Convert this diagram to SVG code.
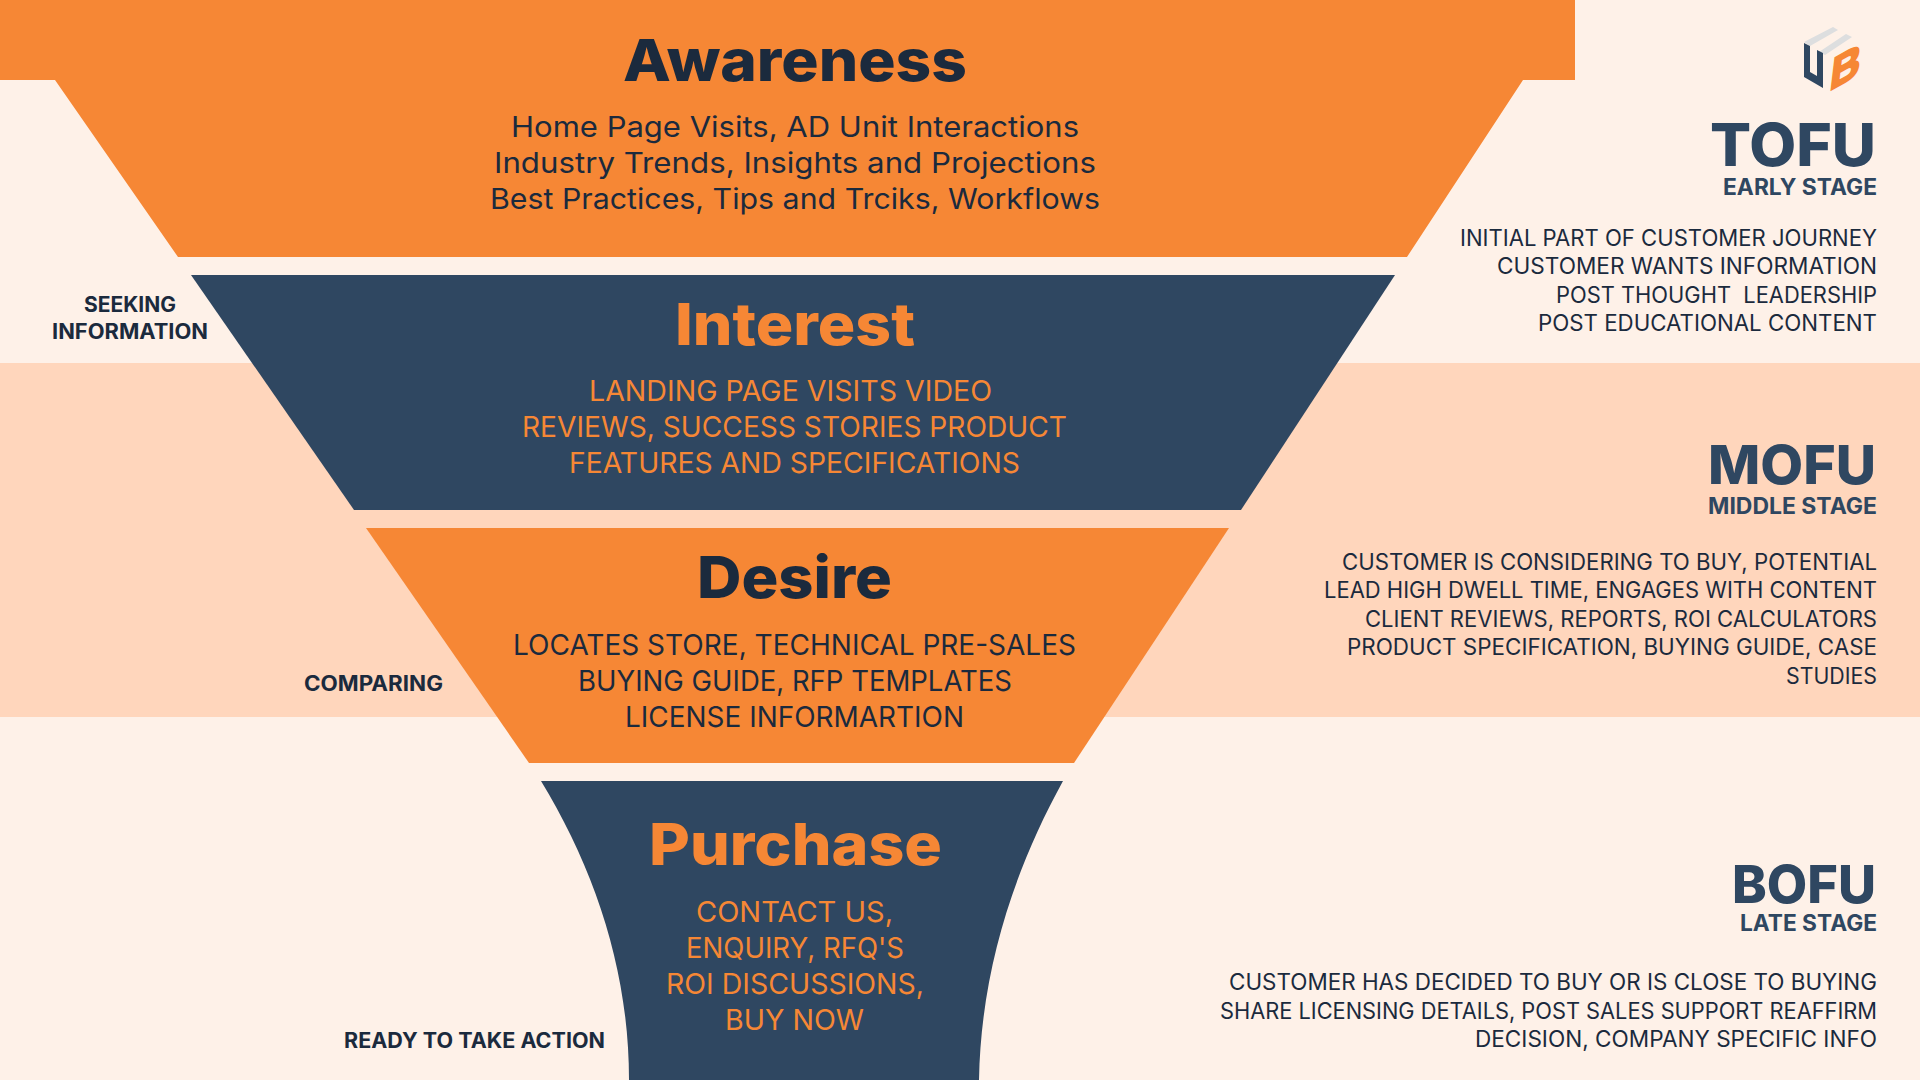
<svg xmlns="http://www.w3.org/2000/svg" width="1920" height="1080" viewBox="0 0 1920 1080">
<style>
text{font-family:"Inter","Noto Sans","Liberation Sans",sans-serif;white-space:pre}
.o{fill:#F68735}.n{fill:#2F4761}
.tt{font-size:58px;font-weight:800}
.b{font-size:28.5px;font-weight:400}
.stage{font-size:59px;font-weight:800;fill:#2F4761}
.sub{font-size:22.5px;font-weight:700;fill:#2F4761}
.d{font-size:22.5px;font-weight:400;fill:#1B2A3D}
.l{font-size:21px;font-weight:700;fill:#1B2A3D}
.dk{fill:#1B2A3D}.or{fill:#F68735}
</style>
<rect width="1920" height="1080" fill="#FEF1E8"/>
<rect y="363" width="1920" height="354" fill="#FFD6BC"/>
<g id="awareness">
<path class="o" d="M0 0H1575V80H1523L1407 257H178L55 80H0Z"/>
<text class="tt dk" x="623" y="81" textLength="344" lengthAdjust="spacingAndGlyphs">Awareness</text>
<text class="b dk" x="511" y="137" textLength="568" lengthAdjust="spacingAndGlyphs">Home Page Visits, AD Unit Interactions</text>
<text class="b dk" x="494" y="173" textLength="602" lengthAdjust="spacingAndGlyphs">Industry Trends, Insights and Projections</text>
<text class="b dk" x="490" y="209" textLength="610" lengthAdjust="spacingAndGlyphs">Best Practices, Tips and Trciks, Workflows</text>
</g>
<g id="interest">
<path class="n" d="M191 275H1395L1241 510H354Z"/>
<text class="tt or" x="675" y="345" textLength="240" lengthAdjust="spacingAndGlyphs">Interest</text>
<text class="b or" x="589" y="401" textLength="403" lengthAdjust="spacingAndGlyphs">LANDING PAGE VISITS VIDEO</text>
<text class="b or" x="522" y="437" textLength="545" lengthAdjust="spacingAndGlyphs">REVIEWS, SUCCESS STORIES PRODUCT</text>
<text class="b or" x="569" y="473" textLength="451" lengthAdjust="spacingAndGlyphs">FEATURES AND SPECIFICATIONS</text>
</g>
<g id="desire">
<path class="o" d="M366 528H1229L1074 763H529Z"/>
<text class="tt dk" x="697" y="598" textLength="195" lengthAdjust="spacingAndGlyphs">Desire</text>
<text class="b dk" x="513" y="655" textLength="563" lengthAdjust="spacingAndGlyphs">LOCATES STORE, TECHNICAL PRE-SALES</text>
<text class="b dk" x="578" y="691" textLength="434" lengthAdjust="spacingAndGlyphs">BUYING GUIDE, RFP TEMPLATES</text>
<text class="b dk" x="625" y="727" textLength="339" lengthAdjust="spacingAndGlyphs">LICENSE INFORMARTION</text>
</g>
<g id="purchase">
<path class="n" d="M541 781H1063C1014 870 981 970 979 1080H629C629 970 595 870 541 781Z"/>
<text class="tt or" x="649" y="865" textLength="293" lengthAdjust="spacingAndGlyphs">Purchase</text>
<text class="b or" x="696" y="922" textLength="197" lengthAdjust="spacingAndGlyphs">CONTACT US,</text>
<text class="b or" x="686" y="958" textLength="218" lengthAdjust="spacingAndGlyphs">ENQUIRY, RFQ'S</text>
<text class="b or" x="666" y="994" textLength="258" lengthAdjust="spacingAndGlyphs">ROI DISCUSSIONS,</text>
<text class="b or" x="725" y="1030" textLength="139" lengthAdjust="spacingAndGlyphs">BUY NOW</text>
</g>
<g id="label-seeking">
<text class="l" x="84" y="312" textLength="92" lengthAdjust="spacingAndGlyphs">SEEKING</text>
<text class="l" x="52" y="339" textLength="156" lengthAdjust="spacingAndGlyphs">INFORMATION</text>
</g>
<g id="label-comparing"><text class="l" x="304" y="691" textLength="139" lengthAdjust="spacingAndGlyphs">COMPARING</text></g>
<g id="label-ready"><text class="l" x="344" y="1048" textLength="261" lengthAdjust="spacingAndGlyphs">READY TO TAKE ACTION</text></g>
<g id="logo">
<path fill="#DDDEDF" d="M1804 42L1833 27L1838 30L1810 46ZM1819 52L1846 34L1852 37L1825 55Z"/>
<path class="n" d="M1804 43L1810 46V72L1817 76V50L1823 53V88L1804 77Z"/>
<text x="0" y="0" transform="matrix(0.9 -0.5 -0.12 1 1829 91)" style="font-family:'Liberation Sans',sans-serif;font-size:46px;font-weight:700;fill:#F68735;stroke:#F68735;stroke-width:2.5">B</text>
</g>
<g id="tofu">
<text class="stage" x="1710" y="166" textLength="166" lengthAdjust="spacingAndGlyphs">TOFU</text>
<text class="sub" x="1723" y="195" textLength="154" lengthAdjust="spacingAndGlyphs">EARLY STAGE</text>
<text class="d" x="1460" y="246" textLength="417" lengthAdjust="spacingAndGlyphs">INITIAL PART OF CUSTOMER JOURNEY</text>
<text class="d" x="1497" y="274" textLength="380" lengthAdjust="spacingAndGlyphs">CUSTOMER WANTS INFORMATION</text>
<text class="d" x="1556" y="303" textLength="321" lengthAdjust="spacingAndGlyphs">POST THOUGHT  LEADERSHIP</text>
<text class="d" x="1538" y="331" textLength="339" lengthAdjust="spacingAndGlyphs">POST EDUCATIONAL CONTENT</text>
</g>
<g id="mofu">
<text class="stage" style="font-size:54px" x="1708" y="484" textLength="168" lengthAdjust="spacingAndGlyphs">MOFU</text>
<text class="sub" x="1708" y="514" textLength="169" lengthAdjust="spacingAndGlyphs">MIDDLE STAGE</text>
<text class="d" x="1342" y="570" textLength="535" lengthAdjust="spacingAndGlyphs">CUSTOMER IS CONSIDERING TO BUY, POTENTIAL</text>
<text class="d" x="1324" y="598" textLength="553" lengthAdjust="spacingAndGlyphs">LEAD HIGH DWELL TIME, ENGAGES WITH CONTENT</text>
<text class="d" x="1365" y="627" textLength="512" lengthAdjust="spacingAndGlyphs">CLIENT REVIEWS, REPORTS, ROI CALCULATORS</text>
<text class="d" x="1347" y="655" textLength="530" lengthAdjust="spacingAndGlyphs">PRODUCT SPECIFICATION, BUYING GUIDE, CASE</text>
<text class="d" x="1786" y="684" textLength="91" lengthAdjust="spacingAndGlyphs">STUDIES</text>
</g>
<g id="bofu">
<text class="stage" style="font-size:52px" x="1732" y="903" textLength="144" lengthAdjust="spacingAndGlyphs">BOFU</text>
<text class="sub" x="1740" y="931" textLength="137" lengthAdjust="spacingAndGlyphs">LATE STAGE</text>
<text class="d" x="1229" y="990" textLength="648" lengthAdjust="spacingAndGlyphs">CUSTOMER HAS DECIDED TO BUY OR IS CLOSE TO BUYING</text>
<text class="d" x="1220" y="1019" textLength="657" lengthAdjust="spacingAndGlyphs">SHARE LICENSING DETAILS, POST SALES SUPPORT REAFFIRM</text>
<text class="d" x="1475" y="1047" textLength="402" lengthAdjust="spacingAndGlyphs">DECISION, COMPANY SPECIFIC INFO</text>
</g>
</svg>
